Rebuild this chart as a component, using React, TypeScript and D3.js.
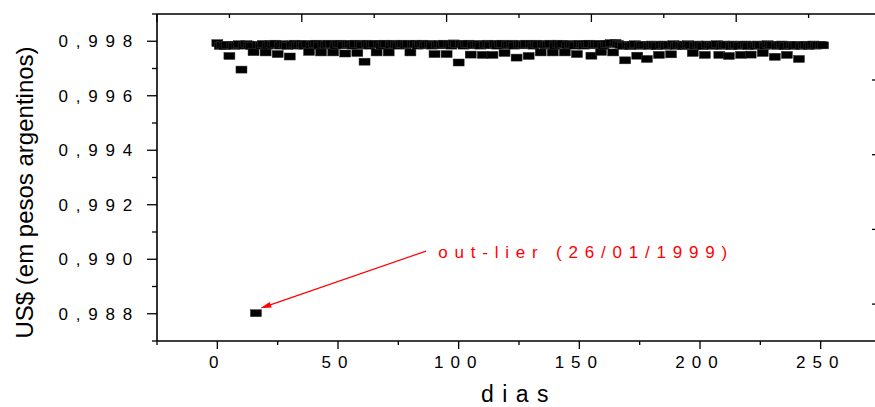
import React from 'react';
import * as d3 from 'd3';

const xTicks = [0, 50, 100, 150, 200, 250];
const xMinorTicks = [-25, 25, 75, 125, 175, 225, 275];
const yTicks = [0.988, 0.99, 0.992, 0.994, 0.996, 0.998];
const yTickLabels = ['0,988', '0,990', '0,992', '0,994', '0,996', '0,998'];
const yMinorTicks = [0.987, 0.989, 0.991, 0.993, 0.995, 0.997, 0.999];
const topMajorTicks = [0, 1, 2, 3, 4, 5];
const topMinorTicks = [0.5, 1.5, 2.5, 3.5, 4.5];
const rightTicks = [1, 2, 3, 4];

// daily US$ rate (in Argentine pesos), one value per trading day (day = index)
const rate = [
  0.99793, 0.99783, 0.99786, 0.99782, 0.99786, 0.99746, 0.99787, 0.99783, 0.99786, 0.99789,
  0.99696, 0.99784, 0.99789, 0.99788, 0.99783, 0.9976, 0.98802, 0.99787, 0.99784, 0.9979,
  0.99759, 0.99784, 0.99789, 0.99786, 0.99791, 0.99753, 0.99784, 0.99789, 0.99788, 0.99783,
  0.99744, 0.99788, 0.99791, 0.99784, 0.99788, 0.9979, 0.99784, 0.99789, 0.99761, 0.99785,
  0.99789, 0.99791, 0.99784, 0.99759, 0.99789, 0.99785, 0.99791, 0.99789, 0.99759, 0.99784,
  0.9979, 0.99791, 0.99785, 0.99755, 0.99789, 0.9979, 0.99784, 0.99791, 0.99757, 0.9979,
  0.99785, 0.99725, 0.99791, 0.99784, 0.9979, 0.99789, 0.99759, 0.9979, 0.99784, 0.99791,
  0.9979, 0.99759, 0.99785, 0.99791, 0.99788, 0.99784, 0.99789, 0.99791, 0.99785, 0.9979,
  0.99759, 0.99789, 0.99791, 0.99784, 0.99789, 0.99791, 0.99785, 0.99788, 0.9979, 0.99784,
  0.99753, 0.99788, 0.9979, 0.99785, 0.99791, 0.99753, 0.99789, 0.99784, 0.99792, 0.99789,
  0.99722, 0.9979, 0.99784, 0.99789, 0.99791, 0.99751, 0.99785, 0.99788, 0.9979, 0.99784,
  0.9975, 0.99788, 0.99791, 0.99785, 0.9975, 0.9979, 0.99784, 0.99789, 0.99791, 0.99757,
  0.99785, 0.99788, 0.99791, 0.99784, 0.9974, 0.99788, 0.9979, 0.99785, 0.99791, 0.99746,
  0.9979, 0.99784, 0.99791, 0.99788, 0.99759, 0.9979, 0.99785, 0.99788, 0.99791, 0.99759,
  0.99784, 0.99791, 0.99788, 0.9979, 0.99759, 0.99785, 0.9979, 0.99788, 0.99784, 0.99753,
  0.9979, 0.99789, 0.99784, 0.9979, 0.99791, 0.99747, 0.99785, 0.9979, 0.99789, 0.99761,
  0.99784, 0.9979, 0.99791, 0.99793, 0.99759, 0.99794, 0.9979, 0.99787, 0.99783, 0.9973,
  0.99786, 0.99782, 0.99787, 0.99789, 0.99747, 0.99783, 0.99787, 0.99786, 0.99735, 0.99783,
  0.99788, 0.99786, 0.99782, 0.9975, 0.99787, 0.99788, 0.99783, 0.99786, 0.99752, 0.99789,
  0.99783, 0.99788, 0.99787, 0.99782, 0.99785, 0.99789, 0.99786, 0.99757, 0.99783, 0.99788,
  0.99786, 0.99782, 0.9975, 0.99788, 0.99786, 0.99783, 0.99785, 0.99789, 0.9975, 0.99783,
  0.99788, 0.99787, 0.99746, 0.99782, 0.99788, 0.99787, 0.99783, 0.9975, 0.99787, 0.99788,
  0.99782, 0.99751, 0.99787, 0.99783, 0.99788, 0.99786, 0.99757, 0.99783, 0.99789, 0.99785,
  0.99787, 0.99743, 0.99783, 0.99785, 0.99788, 0.99782, 0.9975, 0.99785, 0.99787, 0.99783,
  0.99786, 0.99735, 0.99783, 0.99786, 0.99787, 0.99783, 0.99785, 0.99788, 0.99784, 0.99786,
  0.99787, 0.99785,
];

const annotationText = 'out-lier (26/01/1999)';
const annotationPos = [91.5, 0.99005];
const arrowFrom = [86.5, 0.9903];
const arrowTo = [17.8, 0.9882];

const xTitle = 'dias';
const yTitle = 'US$ (em pesos argentinos)';

const W = 875;
const H = 407;
const FONT = '"Liberation Sans", Arial, Helvetica, sans-serif';

export default function App() {
  const left = 157;
  const right = 881;
  const top = 14;
  const bottom = 341;
  const x = d3.scaleLinear().domain([-25, 275]).range([left, right]);
  const y = d3.scaleLinear().domain([0.987, 0.999]).range([bottom, top]);
  const xTop = d3.scaleLinear().domain([0, 5]).range([left, right]);
  const yRight = d3.scaleLinear().domain([0.1165, 4.494]).range([top, bottom]);

  const mw = 11;
  const mh = 7;

  const ax = x(arrowFrom[0]);
  const ay = y(arrowFrom[1]);
  const bx = x(arrowTo[0]);
  const by = y(arrowTo[1]);
  const ang = Math.atan2(by - ay, bx - ax);
  const hl = 11;
  const hw = 3;
  const p1 = [bx - hl * Math.cos(ang) + hw * Math.sin(ang), by - hl * Math.sin(ang) - hw * Math.cos(ang)];
  const p2 = [bx - hl * Math.cos(ang) - hw * Math.sin(ang), by - hl * Math.sin(ang) + hw * Math.cos(ang)];

  return (
    <svg width={W} height={H} style={{ position: 'absolute', left: 0, top: 0, background: '#fff' }} fontFamily={FONT}>
      <rect x={0} y={0} width={W} height={H} fill="#fff" />
      {/* data */}
      <g>
        {rate.map((v, i) => (
          <rect key={i} x={x(i) - mw / 2} y={y(v) - mh / 2} width={mw} height={mh} fill="#000" stroke="#333" strokeWidth={0.5} />
        ))}
      </g>
      {/* frame */}
      <g stroke="#000" strokeWidth={1.6} fill="none">
        <line x1={left} y1={top} x2={left} y2={bottom} />
        <line x1={left} y1={bottom} x2={right} y2={bottom} />
        <line x1={left} y1={top} x2={right} y2={top} />
        <line x1={right} y1={top} x2={right} y2={bottom} />
      </g>
      {/* ticks */}
      <g stroke="#000" strokeWidth={1.3}>
        {yTicks.map((t) => (
          <line key={'ym' + t} x1={left - 10} x2={left} y1={y(t)} y2={y(t)} />
        ))}
        {yMinorTicks.map((t) => (
          <line key={'yn' + t} x1={left - 5} x2={left} y1={y(t)} y2={y(t)} />
        ))}
        {xTicks.map((t) => (
          <line key={'xm' + t} x1={x(t)} x2={x(t)} y1={bottom} y2={bottom + 8} />
        ))}
        {xMinorTicks.map((t) => (
          <line key={'xn' + t} x1={x(t)} x2={x(t)} y1={bottom} y2={bottom + 4} />
        ))}
        {topMajorTicks.map((t) => (
          <line key={'tm' + t} x1={xTop(t)} x2={xTop(t)} y1={top} y2={top + 8} />
        ))}
        {topMinorTicks.map((t) => (
          <line key={'tn' + t} x1={xTop(t)} x2={xTop(t)} y1={top} y2={top + 4} />
        ))}
        {rightTicks.map((t) => (
          <line key={'rm' + t} x1={right - 9} x2={right} y1={yRight(t)} y2={yRight(t)} />
        ))}
      </g>
      {/* tick labels */}
      <g fontSize={17} fill="#000">
        {yTicks.map((t, i) => (
          <text key={'yl' + t} x={left - 17} y={y(t) + 6} textAnchor="end" letterSpacing={7.8}>
            {yTickLabels[i]}
          </text>
        ))}
        {xTicks.map((t) => (
          <text key={'xl' + t} x={x(t)} y={bottom + 27} textAnchor="middle" letterSpacing={7}>
            {String(t)}
          </text>
        ))}
      </g>
      {/* axis titles */}
      <text x={x(125)} y={402} textAnchor="middle" fontSize={23} letterSpacing={8.5}>
        {xTitle}
      </text>
      <text transform={`translate(33, ${(top + bottom) / 2 + 15}) rotate(-90)`} textAnchor="middle" fontSize={24}>
        {yTitle}
      </text>
      {/* annotation */}
      <text x={x(annotationPos[0])} y={y(annotationPos[1])} fontSize={17} fill="#ff0000" letterSpacing={6.8}>
        {annotationText}
      </text>
      <line x1={ax} y1={ay} x2={bx - 6 * Math.cos(ang)} y2={by - 6 * Math.sin(ang)} stroke="#ff0000" strokeWidth={1.2} />
      <polygon points={`${bx},${by} ${p1[0]},${p1[1]} ${p2[0]},${p2[1]}`} fill="#ff0000" />
    </svg>
  );
}
